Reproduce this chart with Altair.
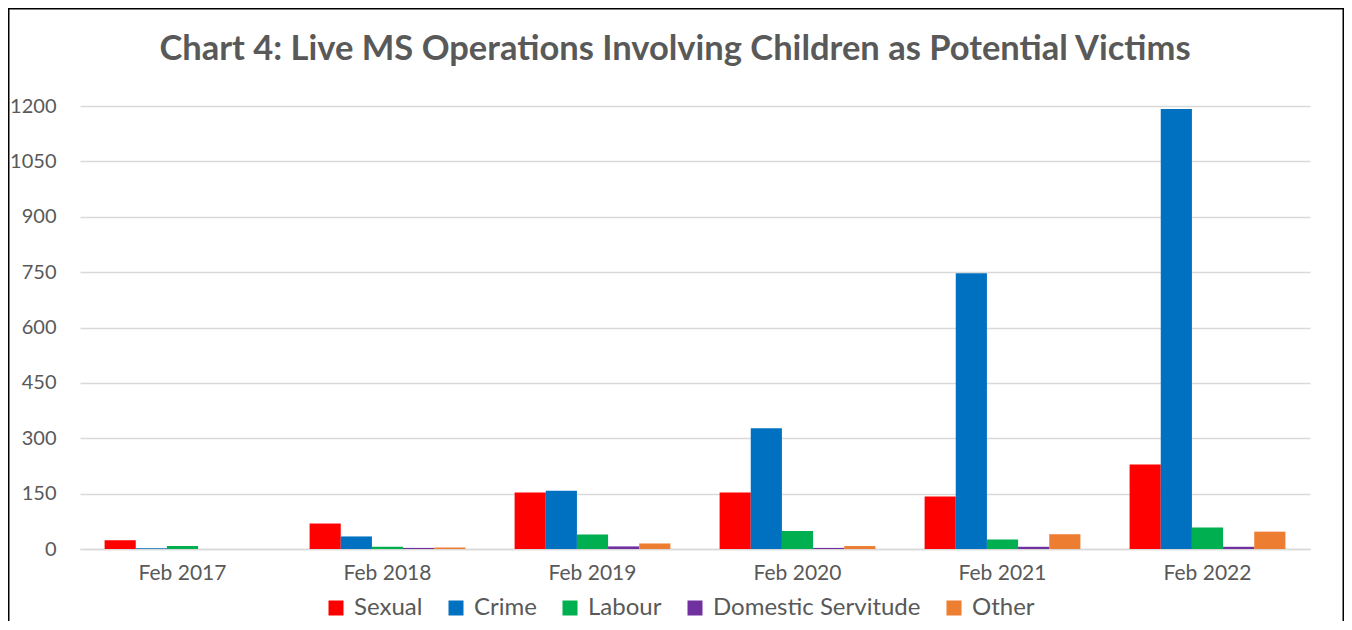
import altair as alt
import pandas as pd

years = ["Feb 2017", "Feb 2018", "Feb 2019", "Feb 2020", "Feb 2021", "Feb 2022"]
series = ["Sexual", "Crime", "Labour", "Domestic Servitude", "Other"]
colors = ["#FF0000", "#0070C0", "#00B050", "#7030A0", "#ED7D31"]
title_text = "Chart 4: Live MS Operations Involving Children as Potential Victims"

sexual = [24, 69, 153, 153, 142, 229]
crime = [2, 34, 158, 327, 747, 1192]
labour = [8, 6, 39, 49, 26, 58]
domestic = [0, 3, 7, 3, 6, 6]
other = [0, 4, 15, 8, 40, 47]

values = {"Sexual": sexual, "Crime": crime, "Labour": labour,
          "Domestic Servitude": domestic, "Other": other}

rows = []
for s in series:
    for y, v in zip(years, values[s]):
        rows.append({"Year": y, "Type": s, "Value": v})
df = pd.DataFrame(rows)

W, H = 1230, 443
PL, PT, PR, PB = 72, 98, 34, 72

bars = alt.Chart(df).mark_bar().encode(
    x=alt.X("Year:N", sort=years,
            scale=alt.Scale(paddingInner=0.24, paddingOuter=0.12),
            axis=alt.Axis(title=None, labelAngle=0, ticks=False, domain=True,
                          domainColor="#d9d9d9", domainWidth=1.5,
                          labelPadding=13, labelFontSize=21, labelFont="Lato",
                          labelColor="#595959")),
    xOffset=alt.XOffset("Type:N", sort=series,
                        scale=alt.Scale(domain=series, paddingInner=0, paddingOuter=0)),
    y=alt.Y("Value:Q", scale=alt.Scale(domain=[0, 1200], nice=False),
            axis=alt.Axis(title=None, values=[0, 150, 300, 450, 600, 750, 900, 1050, 1200],
                          format="d",
                          grid=True, gridColor="#d9d9d9", gridWidth=1.5,
                          domain=False, ticks=False, labelPadding=24,
                          labelFontSize=20, labelFont="Lato", labelColor="#595959")),
    color=alt.Color("Type:N", sort=series,
                    scale=alt.Scale(domain=series, range=colors),
                    legend=alt.Legend(title=None, orient="none", legendX=244, legendY=490,
                                      direction="horizontal", columns=5,
                                      symbolType="square", symbolSize=225,
                                      symbolStrokeWidth=0, labelFontSize=24,
                                      labelFont="Lato", labelColor="#595959",
                                      labelLimit=400,
                                      labelOffset=6, columnPadding=21)),
)

border = alt.Chart(alt.Data(values=[{}])).mark_rect(
    fill=None, stroke="black", strokeWidth=1.5
).encode(
    x=alt.value(-PL + 0.75), x2=alt.value(W + PR - 0.75),
    y=alt.value(-PT + 0.75), y2=alt.value(H + PB + 20),
)

title = alt.Chart(alt.Data(values=[{"t": title_text}])).mark_text(
    font="Lato", fontSize=34.5, fontWeight="bold", color="#595959",
    align="center", baseline="alphabetic"
).encode(
    text="t:N", x=alt.value(595), y=alt.value(-46),
)

chart = alt.layer(bars, border, title).properties(
    width=W, height=H,
    padding={"left": PL, "top": PT, "right": PR, "bottom": PB},
    autosize=alt.AutoSizeParams(type="none"),
).configure_view(stroke=None)

chart.save("out.html", embed_options={"renderer": "svg", "actions": False})
